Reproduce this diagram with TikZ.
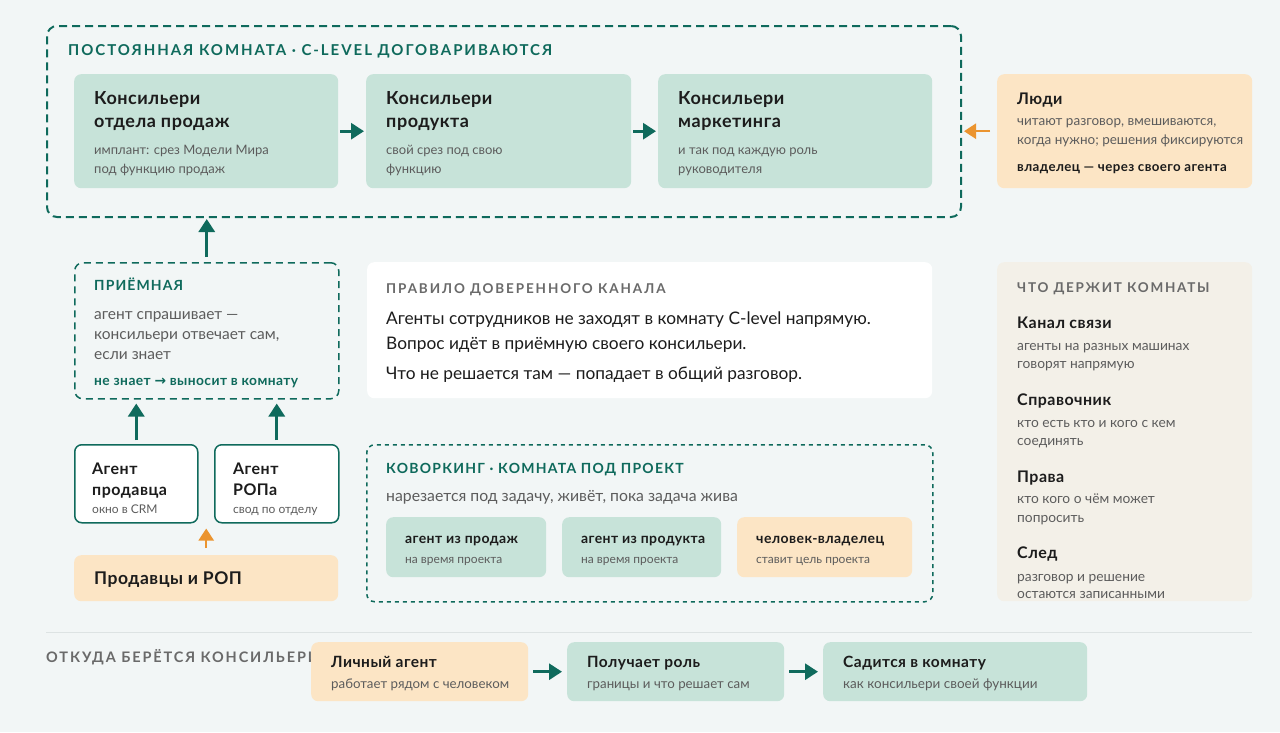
\documentclass[tikz,border=0pt]{standalone}
\usepackage{fontspec}
\setmainfont{Lato}
\newfontfamily\symfont{DejaVu Sans}
\usetikzlibrary{arrows.meta}

\definecolor{cbg}{HTML}{F2F6F6}
\definecolor{cteal}{HTML}{0F6A5C}
\definecolor{cmint}{HTML}{C7E3D9}
\definecolor{cpeach}{HTML}{FCE5C5}
\definecolor{corange}{HTML}{EB942F}
\definecolor{cbeige}{HTML}{F3F0E8}
\definecolor{cink}{HTML}{1C1C1C}
\definecolor{cgray}{HTML}{5C5C5C}
\definecolor{ccap}{HTML}{6A6A6A}
\definecolor{cline}{HTML}{DDE3E3}

\begin{document}
\begin{tikzpicture}[x=1pt,y=1pt,yscale=-1,
  gbox/.style={fill=cmint, rounded corners=7pt, inner sep=0pt, anchor=north west},
  obox/.style={fill=cpeach, rounded corners=7pt, inner sep=0pt, anchor=north west},
  wbox/.style={fill=white, rounded corners=7pt, inner sep=0pt, anchor=north west},
  pbox/.style={fill=cbeige, rounded corners=7pt, inner sep=0pt, anchor=north west},
  abox/.style={fill=white, draw=cteal, line width=1.5pt, rounded corners=7pt, inner sep=0pt, anchor=north west},
  roombox/.style={draw=cteal, line width=2pt, dash pattern=on 8pt off 5pt, rounded corners=10pt, inner sep=0pt, anchor=north west},
  dbox/.style={draw=cteal, line width=1.5pt, dash pattern=on 4pt off 4pt, rounded corners=8pt, inner sep=0pt, anchor=north west},
  headtxt/.style={anchor=base west, inner sep=0pt, text=cink, font=\fontsize{#1}{#1}\selectfont\bfseries\addfontfeature{LetterSpace=3}},
  subtxt/.style={anchor=base west, inner sep=0pt, text=cgray, font=\fontsize{#1}{#1}\selectfont},
  captxt/.style 2 args={anchor=base west, inner sep=0pt, font=\fontsize{#1}{#1}\selectfont\bfseries\addfontfeature{LetterSpace=#2}},
  tarr/.style={draw=cteal, line width=3pt, -{Triangle[length=13pt,width=16pt]}},
  oarr/.style={draw=corange, line width=2.5pt, -{Triangle[length=12pt,width=15pt]}},
]
\useasboundingbox (0,0) rectangle (1280,732);
\fill[cbg] (0,0) rectangle (1280,732);

%Shape: Room (dashed)
\node[roombox, minimum width=914pt, minimum height=191pt] (room) at (46,25) {};
% Text Node
\node[captxt={15}{13}, text=cteal] (roomt) at (68,55) {ПОСТОЯННАЯ КОМНАТА · C-LEVEL ДОГОВАРИВАЮТСЯ};

%Shape: Rectangle
\node[gbox, minimum width=264pt, minimum height=114pt] (cs) at (74,74) {};
\node[headtxt=18] (cs1) at (94,104) {Консильери};
\node[headtxt=18] (cs2) at (94,127) {отдела продаж};
\node[subtxt=13] (cs3) at (94,154) {имплант: срез Модели Мира};
\node[subtxt=13] (cs4) at (94,173) {под функцию продаж};

%Shape: Rectangle
\node[gbox, minimum width=265pt, minimum height=114pt] (cp) at (366,74) {};
\node[headtxt=18] (cp1) at (386,104) {Консильери};
\node[headtxt=18] (cp2) at (386,127) {продукта};
\node[subtxt=13] (cp3) at (386,154) {свой срез под свою};
\node[subtxt=13] (cp4) at (386,173) {функцию};

%Shape: Rectangle
\node[gbox, minimum width=274pt, minimum height=114pt] (cm) at (658,74) {};
\node[headtxt=18] (cm1) at (678,104) {Консильери};
\node[headtxt=18] (cm2) at (678,127) {маркетинга};
\node[subtxt=13] (cm3) at (678,154) {и так под каждую роль};
\node[subtxt=13] (cm4) at (678,173) {руководителя};

%Shape: People
\node[obox, minimum width=255pt, minimum height=114pt] (people) at (997,74) {};
\node[headtxt=16] (pe1) at (1017,104) {Люди};
\node[subtxt=13.5] (pe2) at (1017,125) {читают разговор, вмешиваются,};
\node[subtxt=13.5] (pe3) at (1017,144) {когда нужно; решения фиксируются};
\node[headtxt=13.3] (pe4) at (1017,171) {владелец — через своего агента};

%Straight Lines
\draw[tarr, shorten <=2pt, shorten >=2pt] (cs.east) -- (cp.west);
\draw[tarr, shorten <=2pt, shorten >=2pt] (cp.east) -- (cm.west);
\draw[oarr, shorten <=7pt, shorten >=2pt] (people.west) -- (people.west -| room.east);

%Shape: Reception (dashed)
\node[dbox, dash pattern=on 7pt off 5pt, minimum width=264pt, minimum height=136pt] (recv) at (74,262) {};
\node[captxt={14}{8}, text=cteal] (rv1) at (94,290) {ПРИЁМНАЯ};
\node[subtxt=15.5] (rv2) at (94,319) {агент спрашивает —};
\node[subtxt=15.5] (rv3) at (94,339) {консильери отвечает сам,};
\node[subtxt=15.5] (rv4) at (94,359) {если знает};
\node[headtxt=13.8, text=cteal] (rv5) at (94,385) {не знает {\symfont →} выносит в комнату};

\draw[tarr, shorten <=5pt, shorten >=1pt] (recv.north) -- (recv.north |- room.south);

%Shape: Agents
\node[abox, minimum width=123pt, minimum height=78pt] (agS) at (74,444) {};
\node[headtxt=16] (as1) at (92,474) {Агент};
\node[headtxt=16] (as2) at (92,495) {продавца};
\node[subtxt=12] (as3) at (92,513) {окно в CRM};
\node[abox, minimum width=124pt, minimum height=78pt] (agR) at (214,444) {};
\node[headtxt=16] (ar1) at (233,474) {Агент};
\node[headtxt=16] (ar2) at (233,495) {РОПа};
\node[subtxt=12] (ar3) at (233,513) {свод по отделу};

\draw[tarr, shorten <=4pt, shorten >=4pt] (agS.north) -- (agS.north |- recv.south);
\draw[tarr, shorten <=4pt, shorten >=4pt] (agR.north) -- (agR.north |- recv.south);

%Shape: Sellers
\node[obox, minimum width=264pt, minimum height=46pt] (sell) at (74,555) {};
\node[headtxt=17.5] (se1) at (94,584) {Продавцы и РОП};
\draw[oarr, shorten <=7pt, shorten >=5pt] (sell.north) -- (sell.north |- agS.south);

%Shape: Rule
\node[wbox, minimum width=565pt, minimum height=136pt] (rule) at (367,262) {};
\node[captxt={13.5}{14}, text=ccap] (ru1) at (386,293) {ПРАВИЛО ДОВЕРЕННОГО КАНАЛА};
\node[subtxt=17.3, text=cink] (ru2) at (386,324) {Агенты сотрудников не заходят в комнату C-level напрямую.};
\node[subtxt=17.3, text=cink] (ru3) at (386,349) {Вопрос идёт в приёмную своего консильери.};
\node[subtxt=17.3, text=cink] (ru4) at (386,379) {Что не решается там — попадает в общий разговор.};

%Shape: Coworking (dashed)
\node[dbox, minimum width=566pt, minimum height=157pt] (cowork) at (366,444) {};
\node[captxt={14}{9}, text=cteal] (cw1) at (386,473) {КОВОРКИНГ · КОМНАТА ПОД ПРОЕКТ};
\node[subtxt=15.8] (cw2) at (386,501) {нарезается под задачу, живёт, пока задача жива};
\node[gbox, minimum width=160pt, minimum height=60pt] (cwa) at (386,517) {};
\node[headtxt=14] (cwa1) at (405,543) {агент из продаж};
\node[subtxt=12] (cwa2) at (405,563) {на время проекта};
\node[gbox, minimum width=159pt, minimum height=60pt] (cwb) at (562,517) {};
\node[headtxt=14] (cwb1) at (581,543) {агент из продукта};
\node[subtxt=12] (cwb2) at (581,563) {на время проекта};
\node[obox, minimum width=175pt, minimum height=60pt] (cwc) at (737,517) {};
\node[headtxt=14] (cwc1) at (756,543) {человек-владелец};
\node[subtxt=12] (cwc2) at (756,563) {ставит цель проекта};

%Shape: Panel
\node[pbox, minimum width=255pt, minimum height=339pt] (panel) at (997,262) {};
\node[captxt={13.5}{13}, text=ccap] (pn0) at (1017,292) {ЧТО ДЕРЖИТ КОМНАТЫ};
\node[headtxt=16] (pn1) at (1017,328) {Канал связи};
\node[subtxt=13.8] (pn1a) at (1017,350) {агенты на разных машинах};
\node[subtxt=13.8] (pn1b) at (1017,368) {говорят напрямую};
\node[headtxt=16] (pn2) at (1017,405) {Справочник};
\node[subtxt=13.8] (pn2a) at (1017,427) {кто есть кто и кого с кем};
\node[subtxt=13.8] (pn2b) at (1017,445) {соединять};
\node[headtxt=16] (pn3) at (1017,482) {Права};
\node[subtxt=13.8] (pn3a) at (1017,503) {кто кого о чём может};
\node[subtxt=13.8] (pn3b) at (1017,522) {попросить};
\node[headtxt=16] (pn4) at (1017,558) {След};
\node[subtxt=13.8] (pn4a) at (1017,581) {разговор и решение};
\node[subtxt=13.8] (pn4b) at (1017,598) {остаются записанными};

%Straight Lines
\draw[cline, line width=1pt] (46,632) -- (1252,632);

% Text Node
\node[captxt={14.5}{13}, text=ccap] (orig) at (46,662) {ОТКУДА БЕРЁТСЯ КОНСИЛЬЕРИ};

%Shape: Steps
\node[obox, minimum width=217pt, minimum height=59pt] (pa) at (311,642) {};
\node[headtxt=15.5] (pa1) at (331,667) {Личный агент};
\node[subtxt=13.3] (pa2) at (331,688) {работает рядом с человеком};
\node[gbox, minimum width=217pt, minimum height=59pt] (role) at (567,642) {};
\node[headtxt=15.5] (ro1) at (587,667) {Получает роль};
\node[subtxt=13.3] (ro2) at (587,688) {границы и что решает сам};
\node[gbox, minimum width=264pt, minimum height=59pt] (seat) at (823,642) {};
\node[headtxt=15.5] (sa1) at (843,667) {Садится в комнату};
\node[subtxt=13.5] (sa2) at (843,688) {как консильери своей функции};

\draw[tarr, shorten <=5pt, shorten >=5pt] (pa.east) -- (role.west);
\draw[tarr, shorten <=5pt, shorten >=5pt] (role.east) -- (seat.west);

\end{tikzpicture}
\end{document}
